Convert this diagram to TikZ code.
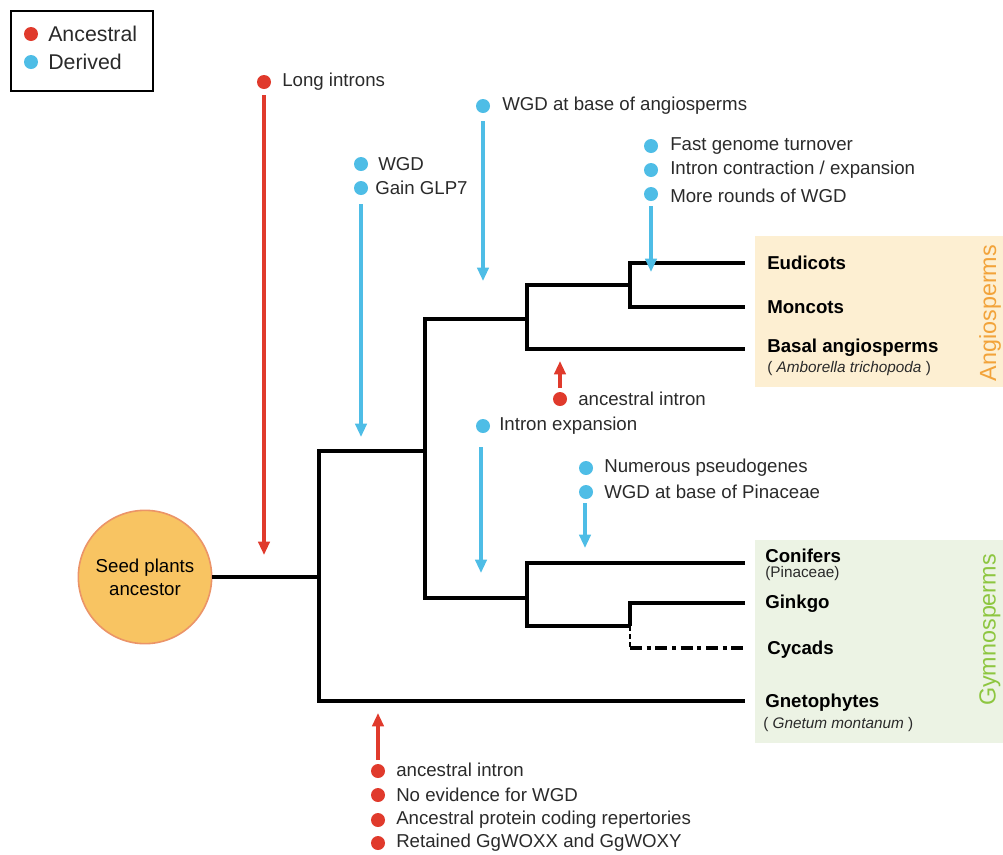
\documentclass[tikz,border=0pt]{standalone}
\usepackage{fontspec}
\setmainfont{Liberation Sans}
\usetikzlibrary{arrows.meta}
\definecolor{anc}{HTML}{E03A2C}
\definecolor{der}{HTML}{4EBDE6}
\definecolor{angfill}{HTML}{FDEFD2}
\definecolor{gymfill}{HTML}{ECF3E4}
\definecolor{angtext}{HTML}{F2A33A}
\definecolor{gymtext}{HTML}{8DC640}
\definecolor{seedfill}{HTML}{F8C462}
\definecolor{seedline}{HTML}{EB9468}
\definecolor{txt}{HTML}{2A2A2A}
\begin{document}
\begin{tikzpicture}[x=0.75pt,y=-0.75pt,
  lab/.style={anchor=west, inner sep=0pt, text=txt, font=\fontsize{14}{16}\selectfont},
  leg/.style={anchor=west, inner sep=0pt, text=txt, font=\fontsize{16}{18}\selectfont},
  taxon/.style={anchor=west, inner sep=0pt, text=black, font=\bfseries\fontsize{14}{16}\selectfont},
  sub/.style={anchor=west, inner sep=0pt, text=txt, font=\fontsize{11.5}{13}\selectfont},
  adot/.style={circle, fill=anc, inner sep=0pt, minimum size=10.5pt},
  ddot/.style={circle, fill=der, inner sep=0pt, minimum size=10.5pt},
  branch/.style={line width=2.4pt, black, line join=miter},
  aarrow/.style={line width=2.3pt, anc, -{Triangle[length=10pt,width=8.5pt]}},
  darrow/.style={line width=2.3pt, der, -{Triangle[length=10pt,width=8.5pt]}},
  group/.style={rotate=90, inner sep=0pt, font=\fontsize{17.5}{20}\selectfont}
]
\useasboundingbox (0,0) rectangle (1003,854);

% legend
\node[draw=black, line width=1.2pt, minimum width=106.5pt, minimum height=60pt, anchor=north west] (legend) at (10,10) {};
\node[adot] (lga) at (31,34) {};
\node[leg] (lgat) at (48,34) {Ancestral};
\node[ddot] (lgd) at (31,62) {};
\node[leg] (lgdt) at (48,62) {Derived};

% group boxes
\fill[angfill] (755,236) rectangle (1003,387);
\fill[gymfill] (755,540) rectangle (1003,743);
\node[group, text=angtext] (angio) at (990,313) {Angiosperms};
\node[group, text=gymtext] (gymno) at (990,630) {Gymnosperms};

% seed node
\node[circle, fill=seedfill, draw=seedline, line width=1.2pt, minimum size=100pt, inner sep=0pt, align=center, text=black, font=\fontsize{14}{17}\selectfont] (seed) at (145,577) {Seed plants\\ancestor};

% tree coordinates
\coordinate (root) at (319,577);
\coordinate (r1) at (319,451);
\coordinate (r2) at (319,701);
\coordinate (s1) at (425,451);
\coordinate (a1) at (425,319);
\coordinate (a2) at (425,598);
\coordinate (s2) at (527,319);
\coordinate (b1) at (527,285);
\coordinate (b2) at (527,349);
\coordinate (s3) at (630,285);
\coordinate (c1) at (630,263);
\coordinate (c2) at (630,307);
\coordinate (s4) at (527,598);
\coordinate (g1) at (527,563);
\coordinate (g2) at (527,626);
\coordinate (s5) at (630,626);
\coordinate (h1) at (630,603);
\coordinate (h2) at (630,648);
\coordinate (tEud) at (745,263);
\coordinate (tMon) at (745,307);
\coordinate (tBas) at (745,349);
\coordinate (tCon) at (745,563);
\coordinate (tGin) at (745,603);
\coordinate (tCyc) at (745,648);
\coordinate (tGne) at (745,701);

% taxa labels
\node[taxon] (eud) at (767,263) {Eudicots};
\node[taxon] (mon) at (767,307) {Moncots};
\node[taxon] (bas) at (767,348) {Basal angiosperms};
\node[sub] (amb) at (767,369) {( \textit{Amborella trichopoda} )};
\node[taxon] (con) at (765,556) {Conifers};
\node[sub] (pin) at (765,574) {(Pinaceae)};
\node[taxon] (gin) at (765,604) {Ginkgo};
\node[taxon] (cyc) at (767,650) {Cycads};
\node[taxon] (gne) at (765,703) {Gnetophytes};
\node[sub] (gmo) at (763,725) {( \textit{Gnetum montanum} )};

% tree branches
\draw[branch] (seed.east) -- (root);
\draw[branch] (s1) -- (r1) -- (r2) -- (tGne);
\draw[branch] (s2) -- (a1) -- (a2) -- (s4);
\draw[branch] (s3) -- (b1) -- (b2) -- (tBas);
\draw[branch] (tEud) -- (c1) -- (c2) -- (tMon);
\draw[branch] (tCon) -- (g1) -- (g2) -- (s5);
\draw[branch] (tGin) -- (h1) -- (s5);
\draw[line width=1.3pt, dash pattern=on 4pt off 2pt] (s5) -- (h2);
\draw[line width=3pt, dash pattern=on 9pt off 3.5pt on 3pt off 3.5pt] (h2) -- (tCyc);

% Long introns
\node[adot] (li) at (264,82) {};
\node[lab] (lit) at (282,82) {Long introns};
\coordinate (liS) at (264,95);
\coordinate (liE) at (264,555);
\draw[aarrow] (liS) -- (liE);

% WGD / Gain GLP7
\node[ddot] (wg1) at (361,164) {};
\node[lab] (wg1t) at (378,164) {WGD};
\node[ddot] (wg2) at (361,188) {};
\node[lab] (wg2t) at (375,188) {Gain GLP7};
\coordinate (wgS) at (361,204);
\coordinate (wgE) at (361,437);
\draw[darrow] (wgS) -- (wgE);

% WGD at base of angiosperms
\node[ddot] (wa) at (483,106) {};
\node[lab] (wat) at (502,106) {WGD at base of angiosperms};
\coordinate (waS) at (483,121);
\coordinate (waE) at (483,281);
\draw[darrow] (waS) -- (waE);

% Fast genome turnover
\node[ddot] (f1) at (651,146) {};
\node[lab] (f1t) at (670,146) {Fast genome turnover};
\node[ddot] (f2) at (651,170) {};
\node[lab] (f2t) at (670,170) {Intron contraction / expansion};
\node[ddot] (f3) at (651,194) {};
\node[lab] (f3t) at (670,196) {More rounds of WGD};
\coordinate (fS) at (651,206);
\coordinate (fE) at (651,272);
\draw[darrow] (fS) -- (fE);

% ancestral intron (angiosperms)
\node[adot] (ai) at (560,399) {};
\node[lab] (ait) at (578,399) {ancestral intron};
\coordinate (aiS) at (560,388);
\coordinate (aiE) at (560,361);
\draw[aarrow] (aiS) -- (aiE);

% Intron expansion
\node[ddot] (ie) at (483,426) {};
\node[lab] (iet) at (499,426) {Intron expansion};
\coordinate (ieS) at (481,447);
\coordinate (ieE) at (481,573);
\draw[darrow] (ieS) -- (ieE);

% Pinaceae
\node[ddot] (p1) at (586,468) {};
\node[lab] (p1t) at (604,468) {Numerous pseudogenes};
\node[ddot] (p2) at (586,492) {};
\node[lab] (p2t) at (604,492) {WGD at base of Pinaceae};
\coordinate (pS) at (585,503);
\coordinate (pE) at (585,548);
\draw[darrow] (pS) -- (pE);

% Gnetophytes bottom
\coordinate (gbS) at (378,760);
\coordinate (gbE) at (378,713);
\draw[aarrow] (gbS) -- (gbE);
\node[adot] (b1d) at (378,771) {};
\node[lab] (b1t) at (396,770) {ancestral intron};
\node[adot] (b2d) at (378,795) {};
\node[lab] (b2t) at (396,795) {No evidence for WGD};
\node[adot] (b3d) at (378,820) {};
\node[lab] (b3t) at (396,820) {Ancestral protein coding repertories};
\node[adot] (b4d) at (378,843) {};
\node[lab] (b4t) at (396,843) {Retained GgWOXX and GgWOXY};
\end{tikzpicture}
\end{document}
